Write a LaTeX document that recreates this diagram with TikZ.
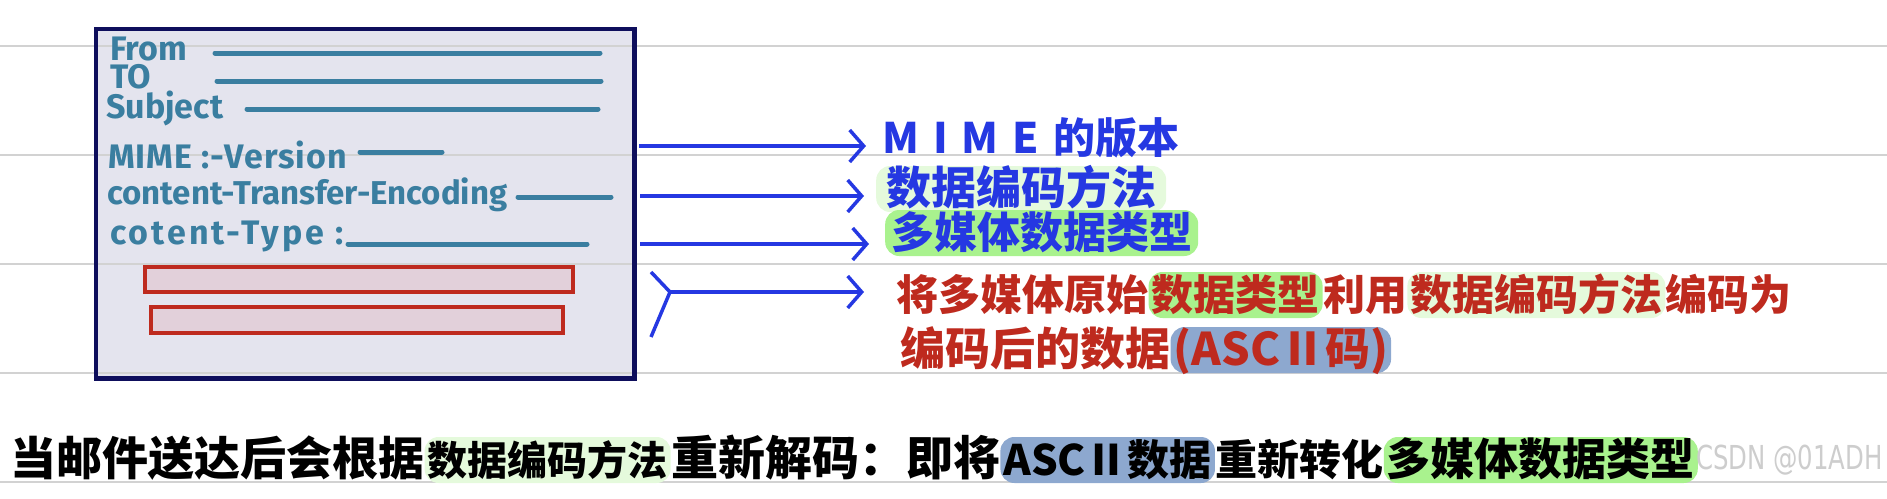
\documentclass[tikz,border=0pt]{standalone}
\usepackage{fontspec}
\setmainfont{Fira Sans}
\newfontfamily\cjk{Noto Sans CJK SC}
\newfontfamily\wmfont{DejaVu Sans}[FakeStretch=0.74]
\usetikzlibrary{
  arrows.meta,
  positioning
}
\definecolor{rulegray}{HTML}{D2D2D2}
\definecolor{mailfill}{HTML}{E4E4EE}
\definecolor{mailnavy}{HTML}{0E0E5C}
\definecolor{inkteal}{HTML}{3A7EA0}
\definecolor{inkred}{HTML}{BE2A1E}
\definecolor{partfill}{HTML}{E2D0DA}
\definecolor{inkblue}{HTML}{2538E2}
\definecolor{hlgreen}{HTML}{A9F28E}
\definecolor{hllight}{HTML}{E5FADC}
\definecolor{hlblue}{HTML}{8DA8CF}
\definecolor{wmgray}{HTML}{CDCDCD}

\tikzset{
  rule/.style={draw=rulegray, line width=2.5pt},
  blank/.style={draw=inkteal, line width=5pt, line cap=round},
  hdr/.style={anchor=west, inner sep=0pt, text=inkteal,
    font=\bfseries\fontsize{34}{38}\selectfont},
  partbox/.style={draw=inkred, fill=partfill, line width=3.5pt,
    anchor=north west, inner sep=0pt},
  arr/.style={draw=inkblue, line width=3.5pt,
    -{Straight Barb[length=14pt, width=32pt]}},
  seg/.style={inner xsep=0pt, inner ysep=0pt, text height=34pt, text depth=4pt,
    font=\cjk\bfseries\fontsize{42}{48}\selectfont},
  hl/.style={seg, inner xsep=3pt, inner ysep=4pt, rounded corners=14pt},
  bot/.style={font=\cjk\bfseries\fontsize{#1}{52}\selectfont},
}

\begin{document}
\begin{tikzpicture}[x=1pt, y=-1pt]
  \useasboundingbox (0,0) rectangle (1887,498);

  % mail box and ruled paper
  \node[fill=mailfill, minimum width=538pt, minimum height=349pt,
    anchor=north west, inner sep=0pt] (mail) at (96,29) {};
  \foreach \y in {46,155,264,373,482}
    \draw[rule] (0,\y) -- (1887,\y);
  \draw[draw=mailnavy, line width=4.5pt] (mail.north west) rectangle (mail.south east);

  % header fields
  \node[hdr] (from) at (110,49) {From};
  \node[hdr] (to) at (110,77) {TO};
  \node[hdr] (subj) at (106,108) {Subject};
  \node[hdr] (mimever) at (108,155) {\addfontfeature{LetterSpace=3}MIME :-Version};
  \node[hdr, font=\bfseries\fontsize{33}{38}\selectfont] (cte) at (107,195) {content-Transfer-Encoding};
  \node[hdr] (ctype) at (110,236) {\addfontfeature{LetterSpace=9}cotent-Type :};
  \foreach \xa/\xb/\y in {215/600/53, 217/601/81, 247/598/109,
                         360/442/152, 518/611/197, 348/587/244}
    \draw[blank] (\xa,\y) -- (\xb,\y);

  % body parts
  \node[partbox, minimum width=428pt, minimum height=25pt] (part1) at (143,265) {};
  \node[partbox, minimum width=412pt, minimum height=26pt] (part2) at (149,305) {};

  % labels on the right
  \node[seg, anchor=west, text=inkblue] (mime) at (882,138) {M\,\,I\,\,M\,\,E\,\,的版本};
  \node[hl, anchor=west, fill=hllight, text=inkblue, inner xsep=10pt,
    font=\cjk\bfseries\fontsize{45}{50}\selectfont] (enc) at (876,189) {数据编码方法};
  \node[hl, anchor=west, fill=hlgreen, text=inkblue, inner xsep=6pt,
    font=\cjk\bfseries\fontsize{43}{48}\selectfont] (mtype) at (885,233) {多媒体数据类型};

  \node[seg, anchor=west, text=inkred] (la) at (896,295) {将多媒体原始};
  \node[hl, right=0pt of la, fill=hlgreen, text=inkred] (lb) {数据类型};
  \node[seg, right=0pt of lb, text=inkred] (lc) {利用};
  \node[hl, right=0pt of lc, fill=hllight, text=inkred] (ld) {数据编码方法};
  \node[seg, right=0pt of ld, text=inkred] (le) {编码为};
  \node[seg, anchor=west, text=inkred, bot=45] (ma) at (900,350) {编码后的数据};
  \node[hl, right=0pt of ma, fill=hlblue, text=inkred, bot=45] (mb) {(ASCⅡ码)};

  % arrows
  \coordinate (t1) at (639,146);
  \coordinate (t2) at (640,196);
  \coordinate (t3) at (640,244);
  \coordinate (fk) at (670,292);
  \coordinate (fkt) at (651,272);
  \coordinate (fkb) at (651,337);
  \draw[arr, shorten >=16pt] (t1) -- (t1 -| mime.west);
  \draw[arr, shorten >=12pt] (t2) -- (t2 -| enc.west);
  \draw[arr, shorten >=16pt] (t3) -- (t3 -| mtype.west);
  \draw[draw=inkblue, line width=3.5pt] (fkt) -- (fk) -- (fkb);
  \draw[arr, shorten >=32pt] (fk) -- (fk -| la.west);

  % bottom sentence
  \node[seg, anchor=west, bot=46] (ba) at (10,460) {当邮件送达后会根据\hspace{10pt}};
  \node[hl, right=0pt of ba, fill=hllight, bot=40] (bb) {数据编码方法};
  \node[seg, right=0pt of bb, bot=47] (bc) {重新解码：即将};
  \node[hl, right=0pt of bc, fill=hlblue, bot=42] (bd) {ASCⅡ数据};
  \node[seg, right=0pt of bd, bot=42] (be) {重新转化};
  \node[hl, right=0pt of be, fill=hlgreen, bot=44] (bf) {多媒体数据类型};

  % watermark
  \node[anchor=east, inner sep=0pt, text=wmgray, font=\wmfont\fontsize{33}{36}\selectfont] (wm) at (1883,460) {CSDN @01ADH};
\end{tikzpicture}
\end{document}
